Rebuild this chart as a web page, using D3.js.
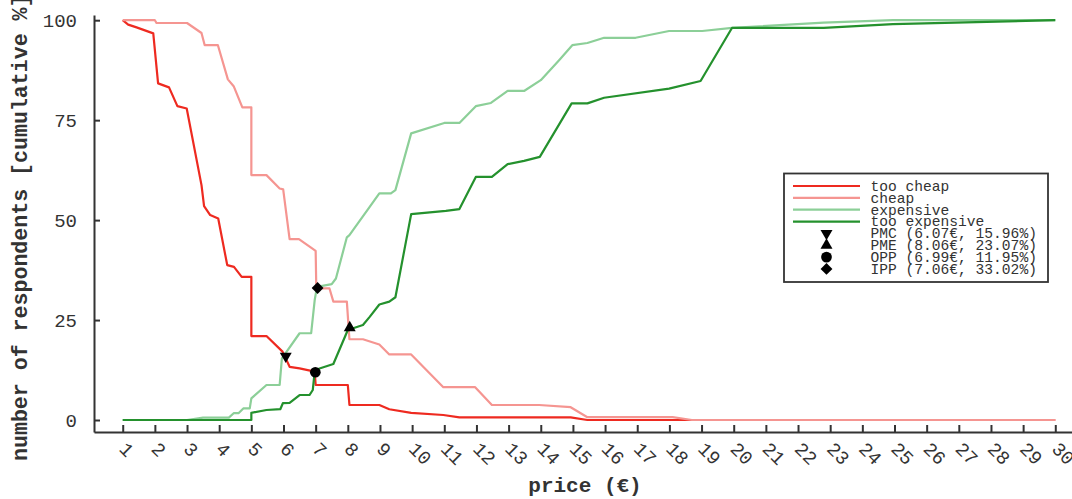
<!DOCTYPE html>
<html>
<head>
<meta charset="utf-8">
<script src="https://cdn.jsdelivr.net/npm/d3@7"></script>
<style>
  body { margin: 0; background: #fff; }
  text { font-family: "Courier New", "Liberation Mono", monospace; }
</style>
</head>
<body>
<div id="chart"></div>
<script>
// Data (price in €, cumulative %)
var tooCheap = [
  [1, 100], [1.17, 98.9], [1.43, 98.2], [1.95, 96.7], [2.1, 84.2], [2.44, 83.2],
  [2.7, 78.5], [2.99, 77.9], [3.45, 58.75], [3.53, 53.5], [3.72, 51.25], [3.97, 50.4],
  [4.25, 38.75], [4.46, 38.3], [4.7, 35.8], [5.0, 35.8], [5.0, 21], [5.47, 21],
  [5.97, 17.1], [6.19, 13.3], [6.5, 12.9], [6.97, 12.1], [7.0, 8.75], [8.0, 8.75],
  [8.05, 3.75], [8.98, 3.75], [9.29, 2.7], [9.97, 1.8], [10.97, 1.25], [11.47, 0.65],
  [14.93, 0.65], [15.45, 0], [30, 0]
];
var cheap = [
  [1, 100], [2, 100], [2.05, 99.3], [3, 99.3], [3.45, 96.8], [3.55, 93.75], [3.96, 93.75],
  [4.27, 85.2], [4.45, 83.5], [4.72, 78.2], [5.0, 78.2], [5.0, 61.25], [5.47, 61.25],
  [5.88, 57.9], [5.99, 57.7], [6.19, 45.25], [6.48, 45.25], [7.0, 42.3], [7.02, 32.9],
  [7.43, 32.9], [7.55, 29.6], [7.97, 29.6], [8.05, 20.2], [8.47, 20.2], [8.98, 18.9],
  [9.29, 16.4], [9.97, 16.4], [10.97, 8.2], [11.96, 8.2], [12.48, 3.75], [13.95, 3.75],
  [14.93, 3.2], [15.45, 0.7], [18.1, 0.7], [18.7, 0], [30, 0]
];
var expensive = [
  [1, 0], [3.0, 0], [3.5, 0.6], [4.3, 0.6], [4.45, 1.7], [4.6, 1.7], [4.75, 2.9],
  [4.95, 2.9], [5.0, 5.4], [5.47, 8.75], [5.88, 8.75], [5.95, 15.4], [6.5, 21.7],
  [6.86, 21.7], [6.97, 30], [7.04, 33.3], [7.5, 34], [7.63, 35.4], [7.97, 45.7],
  [8.05, 46.25], [8.68, 53.3], [8.98, 56.7], [9.34, 56.7], [9.48, 57.5], [9.97, 71.7],
  [11.0, 74.3], [11.47, 74.3], [11.98, 78.5], [12.45, 79.3], [12.97, 82.3], [13.48, 82.3],
  [14.0, 85], [14.57, 90], [14.98, 93.75], [15.45, 94.3], [15.97, 95.6], [16.95, 95.6],
  [17.99, 97.3], [19.02, 97.3], [19.95, 98.1], [22.8, 99.4], [24.95, 100], [30, 100]
];
var tooExpensive = [
  [1, 0], [5.0, 0], [5.0, 1.8], [5.47, 2.5], [5.9, 2.7], [5.98, 4.2], [6.19, 4.3],
  [6.5, 6.25], [6.81, 6.25], [6.91, 7.5], [6.97, 12.1], [7.12, 12.9], [7.55, 14],
  [8.0, 22.5], [8.47, 23.75], [8.68, 25.8], [8.98, 28.9], [9.29, 29.6], [9.48, 30.7],
  [9.97, 51.5], [11.05, 52.3], [11.47, 52.75], [11.98, 60.8], [12.48, 60.8], [12.97, 64],
  [13.48, 64.8], [13.97, 65.8], [14.96, 79.2], [15.45, 79.2], [15.97, 80.6], [17.99, 82.9],
  [18.97, 84.8], [19.95, 98.1], [22.8, 98.1], [24.95, 99], [30, 100]
];

var seriesNames = ["too cheap", "cheap", "expensive", "too expensive"];
var seriesColors = ["#ee2a20", "#f59591", "#8ccf98", "#24912d"];

// Price points
var pointNames = ["PMC", "PME", "OPP", "IPP"];
var pointPrices = [6.07, 8.06, 6.99, 7.06];
var pointPcts = [15.96, 23.07, 11.95, 33.02];

var xTicks = d3.range(1, 31);
var yTicks = [0, 25, 50, 75, 100];

// Chart parameters
var svgWidth = 1072;
var svgHeight = 499;

var svg = d3.select("#chart")
  .append("svg")
  .attr("width", svgWidth)
  .attr("height", svgHeight);

var xScale = d3.scaleLinear()
  .domain([0.107, 30.893])
  .range([94, 1084]);

var yScale = d3.scaleLinear()
  .domain([-3, 101.3])
  .range([432, 15]);

// Axes
var bottomAxis = d3.axisBottom(xScale).tickValues(xTicks).tickSize(-7).tickSizeOuter(0);
var leftAxis = d3.axisLeft(yScale).tickValues(yTicks).tickSize(-6).tickSizeOuter(0).tickPadding(17);

var xAxisG = svg.append("g")
  .attr("transform", "translate(0, 432)")
  .call(bottomAxis);

xAxisG.selectAll("text")
  .attr("x", 0)
  .attr("y", 0)
  .attr("dy", 0)
  .attr("transform", "translate(-5, 18) rotate(45)")
  .style("text-anchor", "start")
  .style("font-size", "19px")
  .attr("fill", "#333");

var yAxisG = svg.append("g")
  .attr("transform", "translate(94, 0)")
  .call(leftAxis);

yAxisG.selectAll("text")
  .style("font-size", "19px")
  .attr("fill", "#333");

svg.selectAll(".domain, .tick line")
  .attr("stroke", "#333")
  .attr("stroke-width", 2);

// Axis titles
svg.append("text")
  .attr("transform", "translate(27, 461) rotate(-90)")
  .style("text-anchor", "start")
  .style("font-size", "21.6px")
  .style("font-weight", "bold")
  .attr("fill", "#333")
  .text("number of respondents [cumulative %]");

svg.append("text")
  .attr("x", 585)
  .attr("y", 492)
  .style("text-anchor", "middle")
  .style("font-size", "21px")
  .style("font-weight", "bold")
  .attr("fill", "#333")
  .text("price (€)");

// Lines
var line = d3.line()
  .x(d => xScale(d[0]))
  .y(d => yScale(d[1]));

[tooCheap, cheap, expensive, tooExpensive].forEach(function(data, i) {
  svg.append("path")
    .datum(data)
    .attr("fill", "none")
    .attr("stroke", seriesColors[i])
    .attr("stroke-width", 2.2)
    .attr("stroke-linejoin", "round")
    .attr("d", line);
});

// Markers
var symbolFor = [
  d3.symbol().type(d3.symbolTriangle).size(62),
  d3.symbol().type(d3.symbolTriangle).size(62),
  d3.symbol().type(d3.symbolCircle).size(90),
  d3.symbol().type(d3.symbolSquare).size(70)
];
var symbolRot = [180, 0, 0, 45];

pointNames.forEach(function(name, i) {
  svg.append("path")
    .attr("d", symbolFor[i]())
    .attr("transform", `translate(${xScale(pointPrices[i])}, ${yScale(pointPcts[i])}) rotate(${symbolRot[i]})`)
    .attr("fill", "black");
});

// Legend
var legend = svg.append("g");

legend.append("rect")
  .attr("x", 784)
  .attr("y", 173.5)
  .attr("width", 264)
  .attr("height", 108.5)
  .attr("fill", "white")
  .attr("stroke", "#333")
  .attr("stroke-width", 1.8);

var rowY = function(i) { return 186 + i * 11.85; };

seriesNames.forEach(function(name, i) {
  legend.append("line")
    .attr("x1", 793)
    .attr("x2", 860)
    .attr("y1", rowY(i))
    .attr("y2", rowY(i))
    .attr("stroke", seriesColors[i])
    .attr("stroke-width", 2.2);
  legend.append("text")
    .attr("x", 870.5)
    .attr("y", rowY(i))
    .attr("dy", "0.33em")
    .style("font-size", "14.6px")
    .attr("fill", "#333")
    .text(name);
});

pointNames.forEach(function(name, i) {
  var j = i + 4;
  legend.append("path")
    .attr("d", symbolFor[i]())
    .attr("transform", `translate(826.5, ${rowY(j)}) rotate(${symbolRot[i]})`)
    .attr("fill", "black");
  legend.append("text")
    .attr("x", 870.5)
    .attr("y", rowY(j))
    .attr("dy", "0.33em")
    .style("font-size", "14.6px")
    .attr("fill", "#333")
    .text(`${name} (${pointPrices[i].toFixed(2)}€, ${pointPcts[i].toFixed(2)}%)`);
});
</script>
</body>
</html>
